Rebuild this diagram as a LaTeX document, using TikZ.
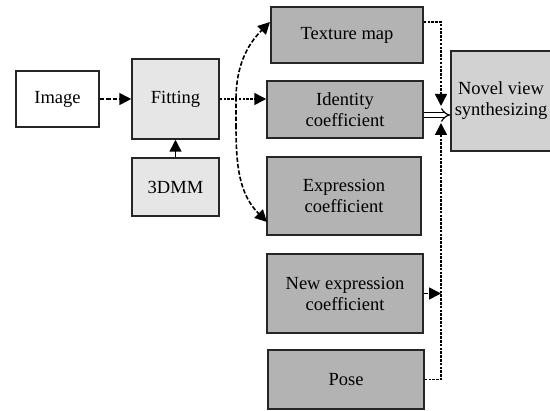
\documentclass[tikz,border=0pt]{standalone}
\usepackage{fontspec}
\setmainfont{Liberation Serif}
\usetikzlibrary{arrows.meta,calc}
\definecolor{lightbox}{HTML}{E6E6E6}
\definecolor{darkbox}{HTML}{B3B3B3}
\definecolor{midbox}{HTML}{D2D2D2}
\begin{document}
\begin{tikzpicture}[x=1pt,y=-1pt,
  box/.style={draw=black!85,line width=1.5pt,rectangle,align=center,inner sep=0pt,
    font=\rmfamily\fontsize{18.5}{21}\selectfont},
  tip/.style={-{Triangle[length=12pt,width=12pt]}},
  dsh/.style={line width=1.6pt,dash pattern=on 4.5pt off 2pt},
  dot/.style={line width=1.6pt,dash pattern=on 2.5pt off 1.3pt}]
\useasboundingbox (0,0) rectangle (550,411);
\node[box,fill=white,minimum width=83pt,minimum height=56pt] (img) at (57.5,99) {Image};
\node[box,fill=lightbox,minimum width=87pt,minimum height=80pt] (fit) at (175.5,99) {Fitting};
\node[box,fill=lightbox,minimum width=87pt,minimum height=58pt] (dmm) at (175.5,187) {3DMM};
\node[box,fill=darkbox,minimum width=152pt,minimum height=56pt] (tex) at (347,35) {Texture map};
\node[box,fill=darkbox,minimum width=156pt,minimum height=57pt] (idc) at (345,109.5) {Identity\\coefficient};
\node[box,fill=darkbox,minimum width=154pt,minimum height=78pt] (exc) at (344,196) {Expression\\coefficient};
\node[box,fill=darkbox,minimum width=156pt,minimum height=79pt] (nec) at (345,293.5) {New expression\\coefficient};
\node[box,fill=darkbox,minimum width=156pt,minimum height=59pt] (pose) at (346,379.5) {Pose};
\node[box,fill=midbox,minimum width=100pt,minimum height=100pt] (nov) at (501,101) {Novel view\\synthesizing};
\coordinate (j) at (441,115);
\coordinate (m) at (236,125);
\coordinate (tt) at (270,22);
\coordinate (et) at (267,222);
\coordinate (ju) at (441,106);
\coordinate (jd) at (441,123);
\draw[dsh,tip] (img.east) -- (fit.west);
\draw[line width=1.5pt,tip] (dmm.north) -- (fit.south);
\draw[dot,tip] (fit.east) -- (fit.east -| idc.west);
\draw[dsh,tip] (m) to[out=-90,in=90] (236,100) to[out=90,in=225] (tt);
\draw[dsh,tip] (m) to[out=-90,in=135] (et);
\draw[dot,tip] (tex.east |- tt) -| (ju);
\draw[dot,tip] (pose.east) -| (jd);
\draw[dsh,tip] (nec.east) -- (nec.east -| j);
\draw[line width=1.2pt,double,double distance=3.5pt,-{Implies}] (idc.east |- j) -- (nov.west |- j);
\end{tikzpicture}
\end{document}
